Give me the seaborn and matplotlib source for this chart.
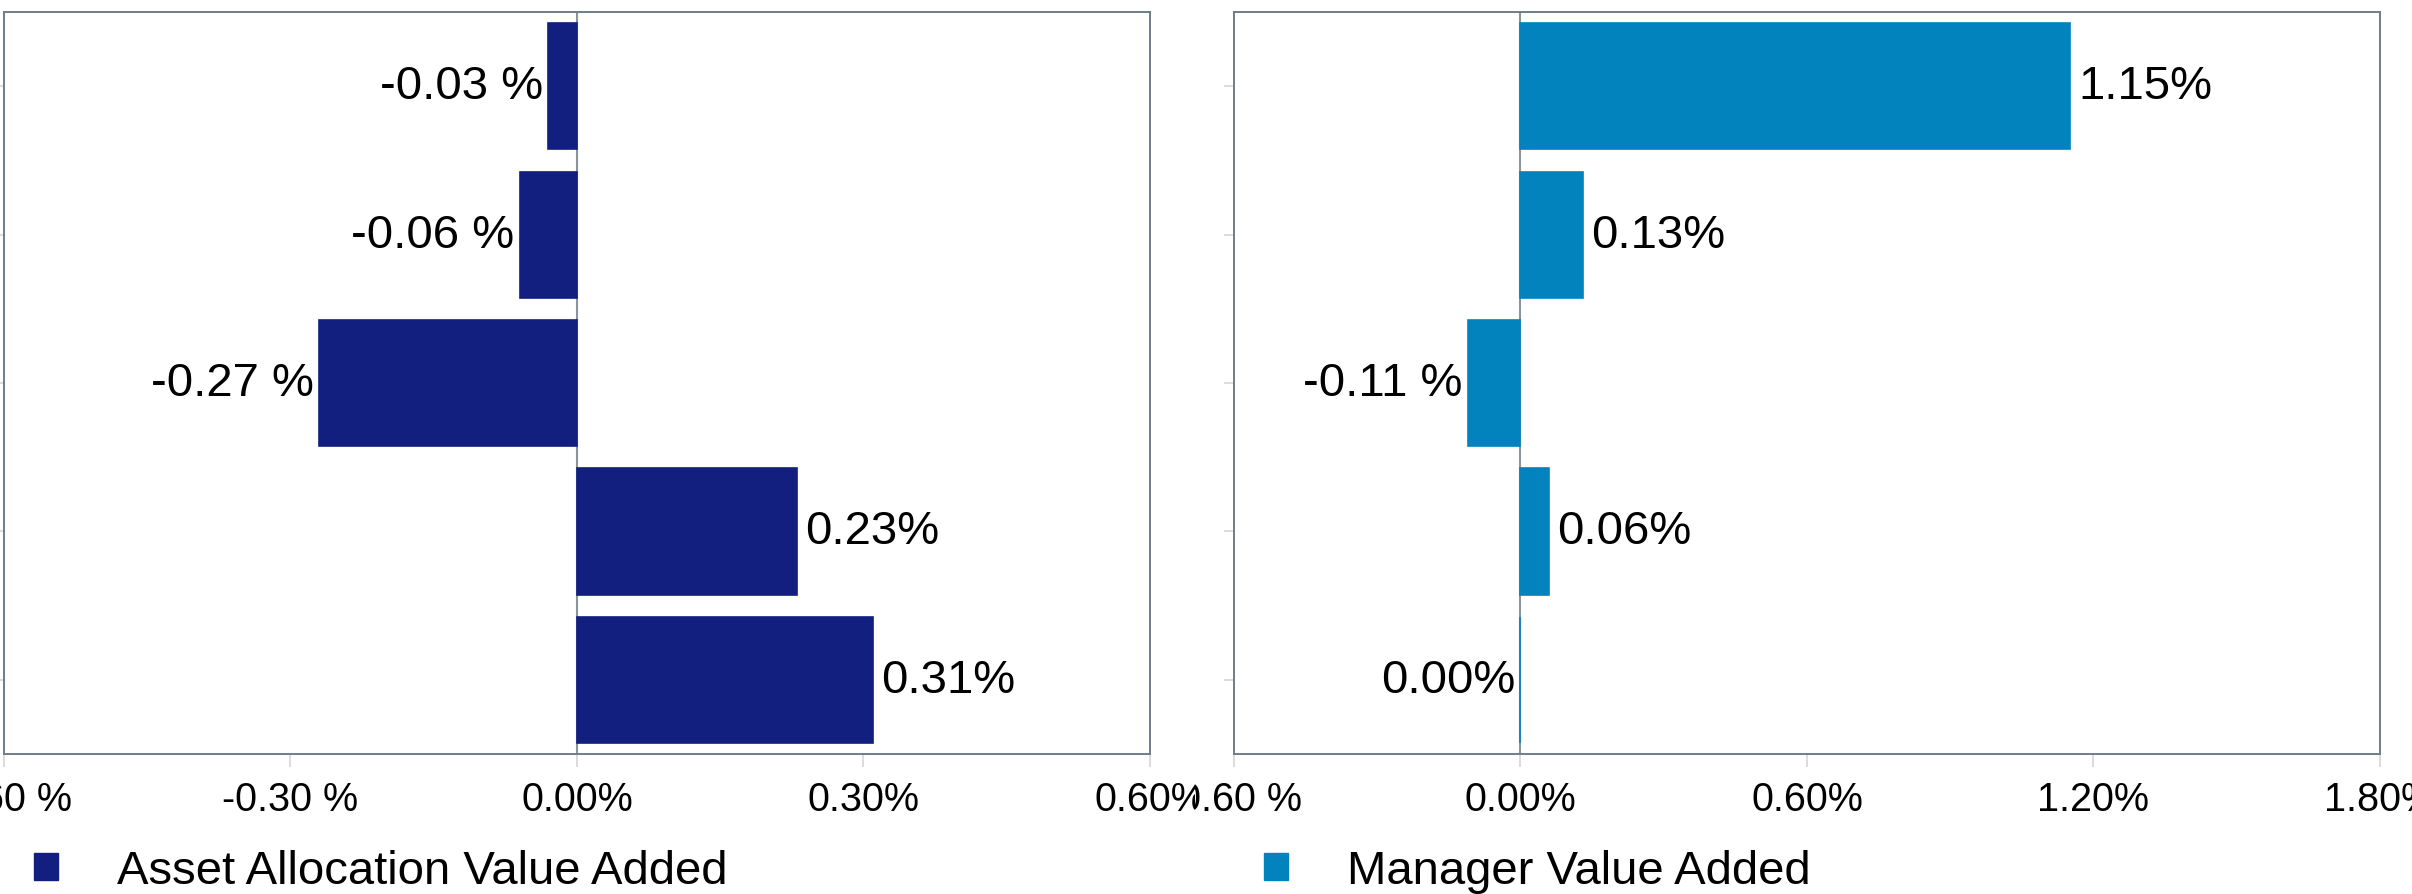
import matplotlib
matplotlib.use("Agg")
import matplotlib.pyplot as plt
import seaborn as sns
from matplotlib.patches import Patch
from matplotlib.ticker import FuncFormatter
from matplotlib.transforms import Bbox, TransformedBbox

# --- data (values in %) ---
categories = ["Row 1", "Row 2", "Row 3", "Row 4", "Row 5"]
asset_allocation = [-0.03, -0.06, -0.27, 0.23, 0.31]
manager_value = [1.15, 0.13, -0.11, 0.06, 0.00]
left_ticks = [-0.60, -0.30, 0.00, 0.30, 0.60]
right_ticks = [-0.60, 0.00, 0.60, 1.20, 1.80]
series_names = ["Asset Allocation Value Added", "Manager Value Added"]

NAVY = "#121f7f"
BLUE = "#0283bd"
SPINE = "#6f7d8a"
TICK = "#d6d6d6"

sns.set_theme(style="white")
plt.rcParams["font.family"] = ["Liberation Sans", "DejaVu Sans"]
plt.rcParams["text.color"] = "black"


def pct_label(v, pos=None):
    if v < -1e-9:
        return f"{v:.2f} %"
    return f"{abs(v):.2f}%"


def draw_panel(ax, values, ticks, color):
    sns.barplot(x=values, y=categories, orient="h", color=color, width=0.85,
                edgecolor=color, linewidth=1.2, saturation=1, ax=ax)
    ax.axvline(0, color="#8a949e", lw=1.5, zorder=0.9)
    ax.set_xlim(ticks[0], ticks[-1])
    ax.set_xticks(ticks)
    ax.xaxis.set_major_formatter(FuncFormatter(pct_label))
    ax.set_yticklabels([])
    ax.set_xlabel("")
    ax.set_ylabel("")
    ax.tick_params(axis="x", bottom=True, length=9, width=1.2, color=TICK,
                   labelsize=28.5, pad=10, labelcolor="black")
    ax.tick_params(axis="y", left=True, length=7, width=1.2, color=TICK)
    for s in ax.spines.values():
        s.set_visible(True)
        s.set_color(SPINE)
        s.set_linewidth(1.4)
    # value labels next to each bar
    for i, v in enumerate(values):
        if v > 0:
            ax.annotate(pct_label(v), xy=(v, i), xytext=(6, 0),
                        textcoords="offset points", ha="left", va="center",
                        fontsize=34, color="black")
        else:
            ax.annotate(pct_label(v), xy=(v, i), xytext=(-4, 0),
                        textcoords="offset points", ha="right", va="center",
                        fontsize=34, color="black")


fig = plt.figure(figsize=(24.12, 8.95), dpi=100)
ax1 = fig.add_axes([0.00166, 0.1564, 0.4751, 0.8290])
ax2 = fig.add_axes([0.5116, 0.1564, 0.4751, 0.8290])

draw_panel(ax1, asset_allocation, left_ticks, NAVY)
draw_panel(ax2, manager_value, right_ticks, BLUE)

# tick labels of each panel are cut where the two panels meet
split = 1195 / 2412
for ax, (x0, x1) in [(ax1, (0, split)), (ax2, (split, 1))]:
    clip = TransformedBbox(Bbox([[x0, 0], [x1, 1]]), fig.transFigure)
    for lbl in ax.get_xticklabels():
        lbl.set_clip_box(clip)
        lbl.set_clip_on(True)

# legends under each panel
for name, color, x in [(series_names[0], NAVY, 34 / 2412), (series_names[1], BLUE, 1264 / 2412)]:
    fig.legend(handles=[Patch(facecolor=color, edgecolor=color, label=name)],
               loc="center left", bbox_to_anchor=(x, 1 - 872 / 895),
               frameon=False, fontsize=34, borderpad=0, borderaxespad=0,
               handlelength=0.5, handleheight=0.5, handletextpad=1.25,
               labelcolor="black")

fig.savefig("out.png", dpi=100)
plt.close(fig)
